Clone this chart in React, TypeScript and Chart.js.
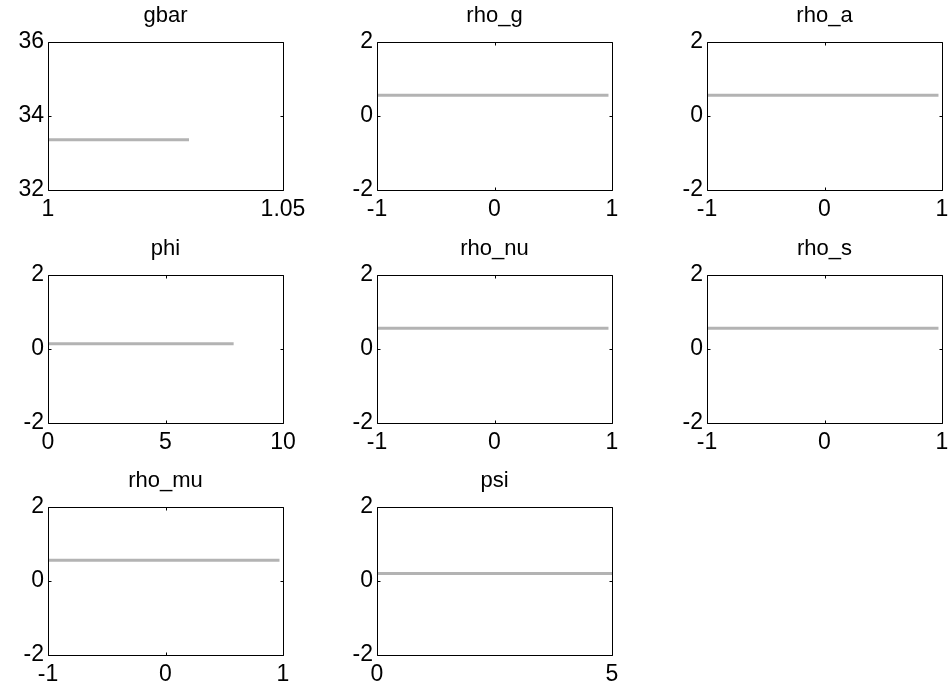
import React, { useEffect, useRef } from 'react';
import { Chart, registerables } from 'chart.js';

Chart.register(...registerables);

// ---- data ----
const titles = ['gbar', 'rho_g', 'rho_a', 'phi', 'rho_nu', 'rho_s', 'rho_mu', 'psi'];
const xMin = [1, -1, -1, 0, -1, -1, -1, 0];
const xMax = [1.05, 1, 1, 10, 1, 1, 1, 5];
const xTicks = [[1, 1.05], [-1, 0, 1], [-1, 0, 1], [0, 5, 10], [-1, 0, 1], [-1, 0, 1], [-1, 0, 1], [0, 5]];
const yMin = [32, -2, -2, -2, -2, -2, -2, -2];
const yMax = [36, 2, 2, 2, 2, 2, 2, 2];
const yTicks = [[32, 34, 36], [-2, 0, 2], [-2, 0, 2], [-2, 0, 2], [-2, 0, 2], [-2, 0, 2], [-2, 0, 2], [-2, 0, 2]];
const lineStart = [1, -1, -1, 0, -1, -1, -1, 0];
const lineEnd = [1.03, 0.97, 0.97, 7.9, 0.97, 0.97, 0.97, 5];
const lineLevel = [33.36, 0.56, 0.56, 0.14, 0.56, 0.56, 0.56, 0.2];

// ---- layout ----
const colLeft = [48, 377, 707];
const rowTop = [42, 275, 507];
const BOX_W = 235;
const BOX_H = 148;
const PAD_L = 60;
const PAD_T = 50;
const PAD_R = 40;
const PAD_B = 40;
const FONT = 'Liberation Sans, Arial, sans-serif';

function makeBoxPlugin(title: string) {
  return {
    id: 'matlabBox',
    afterDatasetsDraw(chart: any) {
      const { ctx, chartArea } = chart;
      const { left, right, top, bottom } = chartArea;
      const xs = chart.scales.x;
      const ys = chart.scales.y;
      ctx.save();
      ctx.strokeStyle = '#000';
      ctx.lineWidth = 1;
      ctx.beginPath();
      const L = Math.round(left) + 0.5;
      const R = Math.round(right) + 0.5;
      const T = Math.round(top) + 0.5;
      const B = Math.round(bottom) + 0.5;
      ctx.moveTo(L, T);
      ctx.lineTo(R, T);
      ctx.lineTo(R, B);
      ctx.lineTo(L, B);
      ctx.closePath();
      const tk = 3;
      xs.ticks.forEach((t: any) => {
        const px = Math.round(xs.getPixelForValue(t.value)) + 0.5;
        ctx.moveTo(px, B);
        ctx.lineTo(px, B - tk);
        ctx.moveTo(px, T);
        ctx.lineTo(px, T + tk);
      });
      ys.ticks.forEach((t: any) => {
        const py = Math.round(ys.getPixelForValue(t.value)) + 0.5;
        ctx.moveTo(L, py);
        ctx.lineTo(L + tk, py);
        ctx.moveTo(R, py);
        ctx.lineTo(R - tk, py);
      });
      ctx.stroke();
      ctx.fillStyle = '#000';
      ctx.font = `22px ${FONT}`;
      ctx.textAlign = 'center';
      ctx.textBaseline = 'alphabetic';
      ctx.fillText(title, (left + right) / 2, top - 20);
      ctx.restore();
    },
  };
}

function Panel({ i }: { i: number }) {
  const ref = useRef<HTMLCanvasElement | null>(null);
  const row = Math.floor(i / 3);
  const col = i % 3;
  const w = PAD_L + BOX_W + PAD_R;
  const h = PAD_T + BOX_H + PAD_B;

  useEffect(() => {
    if (!ref.current) return;
    const tickFont = { family: FONT, size: 23 };
    const chart = new Chart(ref.current, {
      type: 'line',
      data: {
        datasets: [
          {
            data: [
              { x: lineStart[i], y: lineLevel[i] },
              { x: lineEnd[i], y: lineLevel[i] },
            ],
            borderColor: '#b3b3b3',
            borderWidth: 3,
            pointRadius: 0,
            fill: false,
            tension: 0,
          },
        ],
      },
      options: {
        animation: false,
        responsive: false,
        events: [],
        layout: { padding: { left: PAD_L - 48, top: PAD_T, right: PAD_R, bottom: PAD_B - 32 } },
        plugins: {
          legend: { display: false },
          tooltip: { enabled: false },
          title: { display: false },
        },
        scales: {
          x: {
            type: 'linear',
            min: xMin[i],
            max: xMax[i],
            afterBuildTicks: (s: any) => {
              s.ticks = xTicks[i].map((v) => ({ value: v }));
            },
            afterFit: (s: any) => {
              s.height = 32;
            },
            grid: { display: false, drawTicks: false },
            border: { display: false },
            ticks: {
              padding: 6,
              color: '#000',
              font: tickFont,
              maxRotation: 0,
              minRotation: 0,
              autoSkip: false,
              callback: (v: any) => String(v),
            },
          },
          y: {
            type: 'linear',
            min: yMin[i],
            max: yMax[i],
            afterBuildTicks: (s: any) => {
              s.ticks = yTicks[i].map((v) => ({ value: v }));
            },
            afterFit: (s: any) => {
              s.width = 48;
            },
            grid: { display: false, drawTicks: false },
            border: { display: false },
            ticks: {
              padding: 4,
              color: '#000',
              font: tickFont,
              autoSkip: false,
              callback: (v: any) => String(v),
            },
          },
        },
      } as any,
      plugins: [makeBoxPlugin(titles[i])],
    });
    return () => chart.destroy();
  }, [i]);

  return (
    <canvas
      ref={ref}
      width={w}
      height={h}
      style={{
        position: 'absolute',
        left: colLeft[col] - PAD_L,
        top: rowTop[row] - PAD_T,
        width: w,
        height: h,
      }}
    />
  );
}

export default function App() {
  return (
    <div
      style={{
        position: 'absolute',
        left: 0,
        top: 0,
        width: 952,
        height: 690,
        background: '#fff',
        overflow: 'hidden',
      }}
    >
      {titles.map((_, i) => (
        <Panel key={i} i={i} />
      ))}
    </div>
  );
}
